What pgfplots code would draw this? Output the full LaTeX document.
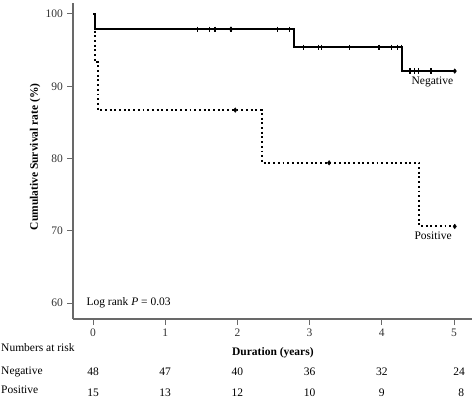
\documentclass[border=0pt]{standalone}
\usepackage{fontspec}
\setmainfont{Liberation Serif}
\usepackage{pgfplots}
\pgfplotsset{compat=1.18}

\definecolor{axisgray}{RGB}{105,105,105}

\begin{document}
\fontsize{11.5}{13}\selectfont
\begin{tikzpicture}[x=1pt,y=1pt,font=\fontsize{11.5}{13}\selectfont]
\begin{axis}[
  at={(73pt,86pt)}, anchor=south west,
  scale only axis, width=399pt, height=316pt,
  xmin=-0.277, xmax=5.249, ymin=57.79, ymax=101.52,
  axis lines=left,
  axis line style={-, line width=1.5pt, axisgray},
  xtick={0,1,2,3,4,5}, ytick={60,70,80,90,100},
  tick align=outside, major tick length=6pt,
  tick style={line width=1pt, axisgray},
  ticklabel style={font=\fontsize{11.5}{13}\selectfont, text=black!80},
  /pgf/number format/assume math mode=true,
  xlabel={\textbf{Duration (years)}},
  xlabel style={at={(axis description cs:0.501,-0.108)}, anchor=center},
  ylabel={\textbf{Cumulative Survival rate (\%)}},
  ylabel style={at={(axis description cs:-0.095,0.513)}, anchor=center, rotate=0},
  clip=false,
]
% Kaplan-Meier step curves
\addplot[const plot, black, line width=1.8pt] coordinates {
  (0,100) (0.03,97.9) (2.78,95.4) (4.28,92.1) (5.01,92.1)};
\addplot[const plot, black, line width=1.9pt, dash pattern=on 1.9pt off 2.8pt] coordinates {
  (0,100) (0.03,93.3) (0.07,86.7) (2.34,79.4) (4.52,70.6) (5.01,70.6)};

% censored observations
\addplot[only marks, mark=|, mark size=2.6pt, mark options={line width=1.2pt, black}] coordinates {
  (1.45,97.9) (1.61,97.9) (1.69,97.9) (1.90,97.9) (1.92,97.9) (2.55,97.9) (2.72,97.9)
  (2.92,95.4) (3.12,95.4) (3.17,95.4) (3.55,95.4) (3.96,95.4) (4.13,95.4) (4.22,95.4) (4.27,95.4)
  (4.39,92.1) (4.45,92.1) (4.51,92.1) (4.68,92.1)};
\addplot[only marks, mark=diamond*, mark size=2.3pt, mark options={black}] coordinates {
  (1.91,97.9) (5.01,92.1) (1.97,86.7) (3.27,79.4) (5.01,70.6)};

\node at (axis cs:4.70,90.6) {Negative};
\node at (axis cs:4.71,69.3) {Positive};
\node[anchor=west] at (axis cs:-0.145,60) {Log rank \textit{P} = 0.03};
\end{axis}

% numbers at risk
\begin{scope}[every node/.style={inner sep=0pt}]
\node[anchor=west] at (1,57) {Numbers at risk};
\node[anchor=west] at (1,33) {Negative};
\node[anchor=west] at (1,15) {Positive};
\end{scope}
\foreach \x/\n in {0/48,1/47,2/40,3/36,4/32}
  \node at ({93+72.2*\x},33) {\n};
\node at ({93+72.2*5.07},33) {24};
\foreach \x/\n in {0/15,1/13,2/12,3/10,4/9}
  \node at ({93+72.2*\x},12) {\n};
\node at ({93+72.2*5.1},12) {8};

\pgfresetboundingbox
\useasboundingbox (0,0) rectangle (474,405);
\end{tikzpicture}
\end{document}
